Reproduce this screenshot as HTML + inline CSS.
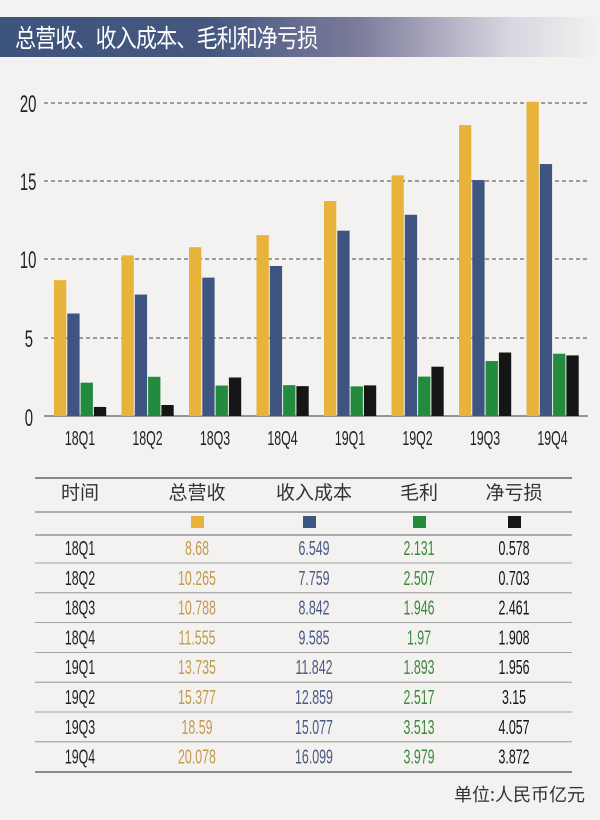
<!DOCTYPE html>
<html><head><meta charset="utf-8"><style>
body{margin:0;width:600px;height:820px;background:#f3f2f0;overflow:hidden;font-family:"Liberation Sans","Noto Sans CJK SC",sans-serif;}
.t{position:absolute;}
</style></head><body>
<div class="t" style="left:0;top:17px;width:600px;height:40px;background:linear-gradient(90deg,#3d547c 0%,#45577f 35%,#7d7c9c 60%,#d8d6e0 85%,#f3f2f0 100%);"></div>
<div class="t" style="left:15px;top:19px;font:25px 'Noto Sans CJK SC',sans-serif;color:#fff;line-height:36px;letter-spacing:-1px;transform:scaleX(0.84);transform-origin:0 0;white-space:nowrap;">总营收、收入成本、毛利和净亏损</div>
<svg class="t" style="left:0;top:0" width="600" height="820">
<g stroke="#444" stroke-dasharray="4,3" stroke-width="1">
<line x1="44" y1="103" x2="588" y2="103"/><line x1="44" y1="181" x2="588" y2="181"/><line x1="44" y1="259" x2="588" y2="259"/><line x1="44" y1="338" x2="588" y2="338"/>
</g>
<line x1="44" y1="416" x2="588" y2="416" stroke="#777" stroke-width="1.5"/>
<g font-family="Liberation Sans,sans-serif" font-size="24" fill="#222" transform="scale(0.62,1)">
<text x="32" y="112">20</text><text x="32" y="190">15</text><text x="32" y="268">10</text><text x="40" y="347">5</text><text x="40" y="426">0</text>
</g>
<g id="bars"></g>
<g font-family="Liberation Sans,sans-serif" font-size="20" fill="#222" text-anchor="middle" id="xl" transform="scale(0.62,1)"></g>
<g stroke="#666" stroke-width="1">
<line x1="35" y1="478" x2="572" y2="478" stroke-width="1.5"/>
<line x1="35" y1="512" x2="572" y2="512"/>
<line x1="35" y1="535" x2="572" y2="535"/>
<line x1="35" y1="772" x2="572" y2="772" stroke-width="1.5"/>
</g>
<g id="rl" stroke="#888" stroke-width="0.8"></g>
<g font-family="Noto Sans CJK SC,sans-serif" font-size="19" fill="#333" text-anchor="middle">
<text x="80" y="499">时间</text><text x="197" y="499">总营收</text><text x="314" y="499">收入成本</text><text x="419" y="499">毛利</text><text x="514" y="499">净亏损</text>
</g>
<rect x="191" y="516" width="13" height="12" fill="#e8b33a"/>
<rect x="303" y="516" width="13" height="12" fill="#3f5581"/>
<rect x="413" y="516" width="13" height="12" fill="#228b3e"/>
<rect x="508" y="516" width="13" height="12" fill="#151515"/>
<g id="rows" font-family="Liberation Sans,sans-serif" font-size="20" text-anchor="middle" transform="scale(0.62,1)"></g>
<text x="585" y="801" text-anchor="end" font-family="Noto Sans CJK SC,sans-serif" font-size="18" fill="#333">单位:人民币亿元</text>
</svg>
<script>
var d=[["18Q1","8.68","6.549","2.131","0.578"],["18Q2","10.265","7.759","2.507","0.703"],["18Q3","10.788","8.842","1.946","2.461"],["18Q4","11.555","9.585","1.97","1.908"],["19Q1","13.735","11.842","1.893","1.956"],["19Q2","15.377","12.859","2.517","3.15"],["19Q3","18.59","15.077","3.513","4.057"],["19Q4","20.078","16.099","3.979","3.872"]];
var cols=["#e8b33a","#3f5581","#228b3e","#151515"],tc=["#c49a4c","#4a5a85","#3a8a3c","#151515"],cx=[197,314,419,514];
var S=0.62;
var ns="http://www.w3.org/2000/svg",b=document.getElementById("bars"),xl=document.getElementById("xl"),rw=document.getElementById("rows"),rl=document.getElementById("rl");
function el(p,t,a,tx){var e=document.createElementNS(ns,t);for(var k in a)e.setAttribute(k,a[k]);if(tx)e.textContent=tx;p.appendChild(e);}
d.forEach(function(r,i){var x0=54+i*67.5;
for(var j=0;j<4;j++){var v=parseFloat(r[j+1]),h=v*15.65;el(b,"rect",{x:x0+j*13.3,y:416-h,width:12.3,height:h,fill:cols[j]});}
el(xl,"text",{x:(x0+26)/S,y:445},r[0]);
var c=548+i*29.8;
el(rw,"text",{x:80/S,y:c+7,fill:"#222"},r[0]);
for(var j=0;j<4;j++)el(rw,"text",{x:cx[j]/S,y:c+7,fill:tc[j]},r[j+1]);
if(i<7)el(rl,"line",{x1:35,x2:572,y1:c+15,y2:c+15});
});
</script>
</body></html>
